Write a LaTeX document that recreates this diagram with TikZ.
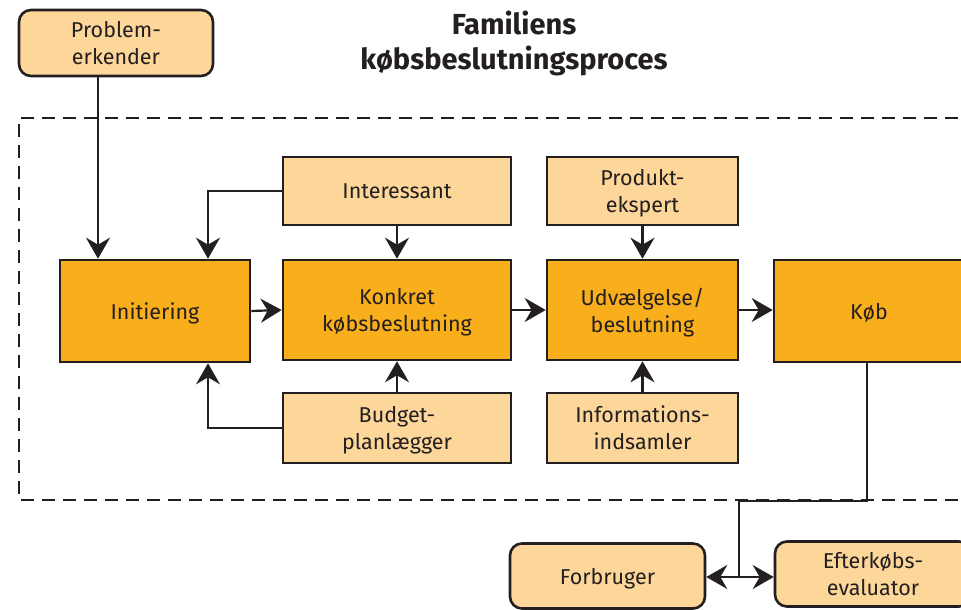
\documentclass[tikz,border=0pt]{standalone}
\usepackage{fontspec}
\setmainfont{Fira Sans}
\usetikzlibrary{arrows.meta}
\definecolor{dark}{HTML}{231F20}
\definecolor{orangeA}{HTML}{F9AF1B}
\definecolor{orangeB}{HTML}{FDD699}
\begin{document}
\begin{tikzpicture}[x=1pt,y=-1pt,
  base/.style={draw=dark, line width=2.6pt, text=dark, align=center, inner sep=0pt,
    text depth=0pt, font=\fontsize{21.5}{27}\selectfont},
  mainbox/.style={base, fill=orangeA},
  rolebox/.style={base, fill=orangeB},
  roundbox/.style={base, fill=orangeB, rounded corners=12pt},
  conn/.style={draw=dark, line width=2.2pt},
  arr/.style={conn, -{Stealth[length=21pt,width=24pt,inset=7pt]}},
  frame/.style={draw=dark, line width=2pt, dash pattern=on 13pt off 8pt}]
\useasboundingbox (0,0) rectangle (961,610);
\clip (0,0) rectangle (961,610);
\fill[white] (0,0) rectangle (961,610);

% dashed frame
\draw[frame] (1000,118) -- (19,118) -- (19,500) -- (1000,500);

% title
\node[text=dark, align=center, font=\bfseries\fontsize{29}{35}\selectfont] (title) at (514,43) {Familiens\\købsbeslutningsproces};

% nodes
\node[roundbox, minimum width=194pt, minimum height=66pt] (prob) at (116,43) {Problem-\\erkender};
\node[mainbox, minimum width=190pt, minimum height=102pt] (init) at (155,311) {Initiering};
\node[mainbox, minimum width=228pt, minimum height=100pt] (kon) at (397,310) {Konkret\\købsbeslutning};
\node[mainbox, minimum width=191pt, minimum height=100pt] (udv) at (642.5,310) {Udvælgelse/\\beslutning};
\node[mainbox, minimum width=190pt, minimum height=102pt] (kob) at (869,311) {Køb};
\node[rolebox, minimum width=228pt, minimum height=68pt] (int) at (397,191) {Interessant};
\node[rolebox, minimum width=191pt, minimum height=68pt] (prod) at (642.5,191) {Produkt-\\ekspert};
\node[rolebox, minimum width=228pt, minimum height=70pt] (bud) at (397,428) {Budget-\\planlægger};
\node[rolebox, minimum width=191pt, minimum height=70pt] (info) at (642.5,428) {Informations-\\indsamler};
\node[roundbox, minimum width=195pt, minimum height=65pt] (forb) at (607.5,576) {Forbruger};
\node[roundbox, minimum width=196pt, minimum height=65pt] (eft) at (873,574) {Efterkøbs-\\evaluator};

\coordinate (j) at (739,501);
\coordinate (k) at (739,577);

% connectors
\draw[arr] ([xshift=-18pt]prob.south) -- ([xshift=-18pt]prob.south |- init.north);
\draw[arr] (int.west) -| ([xshift=53pt]init.north);
\draw[arr] (bud.west) -| ([xshift=53pt]init.south);
\draw[arr] (int.south) -- (kon.north);
\draw[arr] (bud.north) -- (kon.south);
\draw[arr] (prod.south) -- (udv.north);
\draw[arr] (info.north) -- (udv.south);
\draw[arr] (init.east) -- (kon.west);
\draw[arr] (kon.east) -- (udv.west);
\draw[arr] (udv.east) -- (kob.west |- udv.east);
\draw[conn] ([xshift=-2pt]kob.south) |- (j) -- (k);
\draw[arr] (k) -- (forb.east |- k);
\draw[arr] (k) -- (eft.west |- k);
\end{tikzpicture}
\end{document}
